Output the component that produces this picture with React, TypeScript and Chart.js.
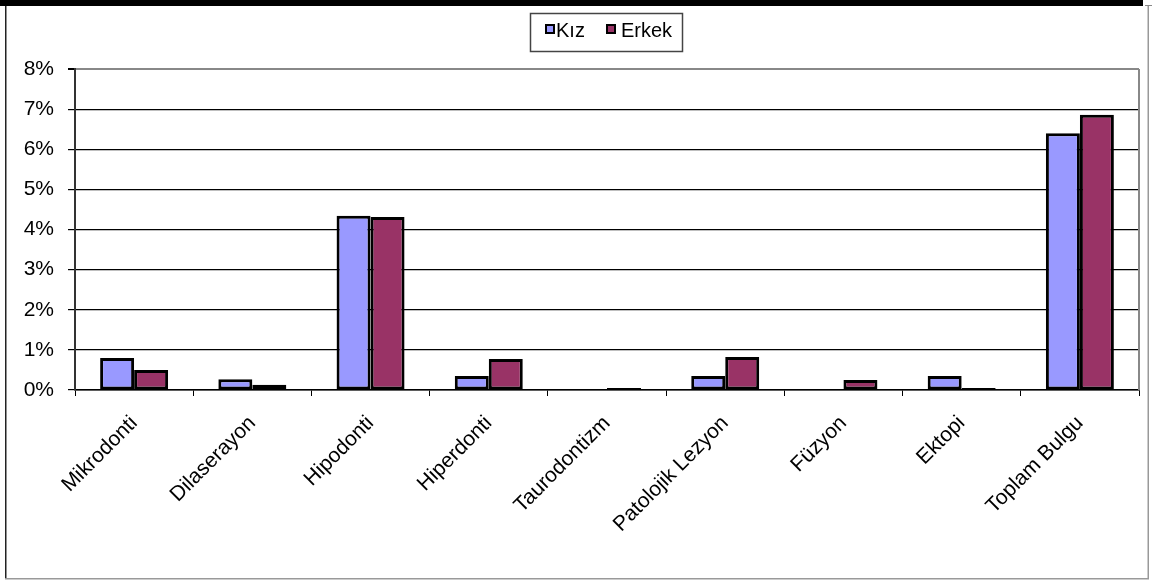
import React, { useEffect, useRef } from "react";
import { Chart, registerables } from "chart.js";

Chart.register(...registerables);

const categories = [
  "Mikrodonti",
  "Dilaserayon",
  "Hipodonti",
  "Hiperdonti",
  "Taurodontizm",
  "Patolojik Lezyon",
  "Füzyon",
  "Ektopi",
  "Toplam Bulgu",
];
const kizValues = [0.8, 0.27, 4.34, 0.35, 0, 0.35, 0, 0.35, 6.4];
const erkekValues = [0.5, 0.13, 4.31, 0.77, 0.05, 0.82, 0.25, 0.05, 6.86];
const seriesLabels = ["Kız", "Erkek"];
const seriesColors = ["#9999FF", "#993366"];
const yTicks = [0, 1, 2, 3, 4, 5, 6, 7, 8];

const FONT = "'Liberation Sans', Arial, sans-serif";

const decorPlugin = {
  id: "decor",
  afterDraw(chart: any) {
    const ctx = chart.ctx;
    const ca = chart.chartArea;
    ctx.save();
    // top black bar
    ctx.fillStyle = "#000";
    ctx.fillRect(0, 0, 1143, 6);
    ctx.fillStyle = "#888";
    ctx.fillRect(1145, 5, 7, 1);
    // outer frame
    ctx.fillStyle = "#222";
    ctx.fillRect(5, 6, 1.5, 573);
    ctx.fillStyle = "#999";
    ctx.fillRect(5, 578, 1144, 1.5);
    ctx.fillRect(1147.5, 6, 1.5, 573);
    // plot right border
    ctx.strokeStyle = "#888";
    ctx.lineWidth = 2;
    ctx.beginPath();
    ctx.moveTo(ca.right, ca.top);
    ctx.lineTo(ca.right, ca.bottom);
    ctx.stroke();
    // legend box
    ctx.strokeStyle = "#444";
    ctx.lineWidth = 1.5;
    ctx.strokeRect(530.5, 13.5, 152, 38);
    ctx.font = "20px " + FONT;
    ctx.textBaseline = "middle";
    ctx.textAlign = "left";
    const markers = [545, 606];
    const texts = [556, 621];
    for (let i = 0; i < 2; i++) {
      ctx.fillStyle = seriesColors[i];
      ctx.fillRect(markers[i], 24, 10, 10);
      ctx.strokeStyle = "#000";
      ctx.lineWidth = 2;
      ctx.strokeRect(markers[i] + 1, 25, 8, 8);
      ctx.fillStyle = "#000";
      ctx.fillText(seriesLabels[i], texts[i], 31);
    }
    ctx.restore();
  },
};

export default function App() {
  const ref = useRef<HTMLCanvasElement>(null);
  useEffect(() => {
    if (!ref.current) return;
    const chart = new Chart(ref.current, {
      type: "bar",
      data: {
        labels: categories,
        datasets: [
          {
            label: seriesLabels[0],
            data: kizValues,
            backgroundColor: seriesColors[0],
            borderColor: "#000",
            borderWidth: 3,
            borderSkipped: false,
            categoryPercentage: 0.575,
            barPercentage: 1,
          },
          {
            label: seriesLabels[1],
            data: erkekValues,
            backgroundColor: seriesColors[1],
            borderColor: "#000",
            borderWidth: 3,
            borderSkipped: false,
            categoryPercentage: 0.575,
            barPercentage: 1,
          },
        ],
      },
      options: {
        responsive: false,
        animation: false,
        layout: { padding: { top: 69, right: 13, left: 0, bottom: 0 } },
        plugins: {
          legend: { display: false },
          tooltip: { enabled: false },
        },
        scales: {
          x: {
            afterFit: (s: any) => {
              s.height = 191;
            },
            grid: {
              offset: true,
              drawOnChartArea: false,
              drawTicks: true,
              tickLength: 6,
              color: "#000",
            },
            border: { color: "#000", width: 1.5 },
            ticks: {
              minRotation: 45,
              maxRotation: 45,
              autoSkip: false,
              color: "#000",
              padding: 15,
              font: { family: FONT, size: 21 },
            },
          },
          y: {
            min: 0,
            max: 8,
            afterFit: (s: any) => {
              s.width = 75;
            },
            afterBuildTicks: (s: any) => {
              s.ticks = yTicks.map((v) => ({ value: v }));
            },
            grid: {
              color: (c: any) => (c.tick && c.tick.value === 8 ? "#888" : "#000"),
              lineWidth: (c: any) => (c.tick && c.tick.value === 8 ? 2 : 1.2),
              drawTicks: true,
              tickLength: 7,
              tickColor: "#000",
            },
            border: { color: "#333", width: 2 },
            ticks: {
              color: "#000",
              padding: 14,
              font: { family: FONT, size: 21 },
              callback: (v: any) => v + "%",
            },
          },
        },
      },
      plugins: [decorPlugin],
    });
    return () => chart.destroy();
  }, []);
  return (
    <div style={{ position: "absolute", left: 0, top: 0, width: 1152, height: 581, background: "#fff" }}>
      <canvas ref={ref} width={1152} height={581} style={{ display: "block" }} />
    </div>
  );
}
